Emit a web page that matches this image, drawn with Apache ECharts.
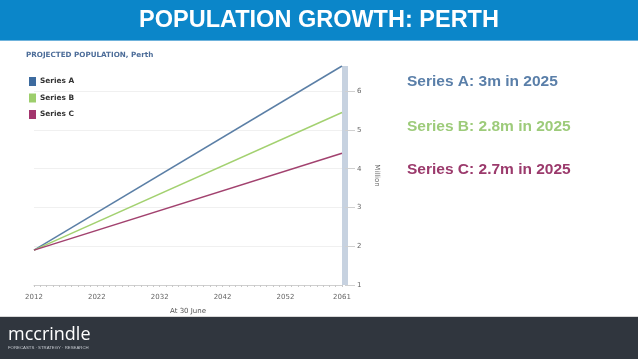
<!DOCTYPE html>
<html>
<head>
<meta charset="utf-8">
<script src="https://cdn.jsdelivr.net/npm/echarts@6/dist/echarts.min.js"></script>
<style>
html,body{margin:0;padding:0;background:#fff;}
#c{width:638px;height:359px;}
</style>
</head>
<body>
<div id="c"></div>
<script>
// Data
const seriesNames = ['Series A', 'Series B', 'Series C'];
const years = [2012, 2061];
const seriesA = [1.9, 6.65];
const seriesB = [1.9, 5.45];
const seriesC = [1.9, 4.4];
const xTickLabels = [2012, 2022, 2032, 2042, 2052, 2061];
const yTickLabels = [1, 2, 3, 4, 5, 6];
const notes = ['Series A: 3m in 2025', 'Series B: 2.8m in 2025', 'Series C: 2.7m in 2025'];

const lineColors = ['#5b7fa6', '#a3d170', '#a2426f'];
const iconColors = ['#3d6b9f', '#9dce6c', '#a3356d'];
const noteColors = ['#5a7fa9', '#9dcb7a', '#9b3a6c'];

const yearTicks = [];
for (let y = years[0]; y <= years[years.length - 1]; y++) yearTicks.push(y);

function pairs(vals) { return years.map((y, i) => [y, vals[i]]); }
const allVals = [seriesA, seriesB, seriesC];

const chart = echarts.init(document.getElementById('c'));
const option = {
  backgroundColor: '#ffffff',
  animation: false,
  textStyle: { fontFamily: 'DejaVu Sans' },
  grid: { left: 34, right: 296, top: 66, bottom: 74, containLabel: false },
  legend: {
    orient: 'vertical', left: 29, top: 77, itemGap: 7.5, padding: 0,
    itemWidth: 7, itemHeight: 9,
    icon: 'rect',
    data: seriesNames.map((n, i) => ({ name: n, itemStyle: { color: iconColors[i] } })),
    textStyle: { fontSize: 7.4, fontWeight: 'bold', color: '#333', fontFamily: 'DejaVu Sans', padding: [0, 0, 0, -1] }
  },
  xAxis: {
    type: 'value', min: years[0], max: years[years.length - 1],
    name: 'At 30 June', nameLocation: 'middle', nameGap: 23,
    nameTextStyle: { fontSize: 7, color: '#555', fontFamily: 'DejaVu Sans' },
    axisLine: { lineStyle: { color: '#cfcfcf', width: 1 } },
    axisTick: { show: true, customValues: yearTicks, length: 2, lineStyle: { color: '#c8c8c8' } },
    axisLabel: { customValues: xTickLabels, formatter: v => String(v), fontSize: 7, color: '#666', margin: 9, fontFamily: 'DejaVu Sans' },
    splitLine: { show: false }
  },
  yAxis: {
    type: 'value', position: 'right', min: 1, max: 6.65, interval: 1, offset: 3,
    name: 'Million', nameLocation: 'middle', nameGap: 28, nameRotate: -90,
    nameTextStyle: { fontSize: 7, color: '#666', fontFamily: 'DejaVu Sans' },
    axisLine: { show: true, lineStyle: { color: '#c7d2e0', width: 6, cap: 'butt' } },
    axisTick: { show: true, customValues: yTickLabels, length: 10, lineStyle: { color: '#d0d0d0' } },
    axisLabel: { customValues: yTickLabels, fontSize: 7, color: '#666', margin: 12, fontFamily: 'DejaVu Sans' },
    splitLine: { show: true, lineStyle: { color: '#f0f0f0', width: 1 } }
  },
  series: seriesNames.map((n, i) => ({
    name: n, type: 'line', data: pairs(allVals[i]),
    showSymbol: false, symbol: 'none',
    lineStyle: { color: lineColors[i], width: 1.5 },
    itemStyle: { color: iconColors[i] },
    z: 3
  })),
  graphic: [
    { type: 'rect', shape: { x: 0, y: 0, width: 638, height: 40 }, style: { fill: '#0b86c9' }, z: 0 },
    { type: 'rect', shape: { x: 0, y: 40, width: 638, height: 1 }, style: { fill: '#6fb3dc' }, z: 0 },
    { type: 'text', x: 319, y: 21, style: { text: 'POPULATION GROWTH: PERTH', fill: '#ffffff', font: 'bold 23.5px "Liberation Sans"', textAlign: 'center', textVerticalAlign: 'middle' } },
    { type: 'text', x: 26, y: 55, style: { text: 'PROJECTED POPULATION, Perth', fill: '#4d6d99', font: 'bold 7.2px "DejaVu Sans"', textAlign: 'left', textVerticalAlign: 'middle' } },
    { type: 'text', x: 407, y: 82, style: { text: notes[0], fill: noteColors[0], font: 'bold 15.5px "Liberation Sans"', textAlign: 'left', textVerticalAlign: 'middle' } },
    { type: 'text', x: 407, y: 127, style: { text: notes[1], fill: noteColors[1], font: 'bold 15.5px "Liberation Sans"', textAlign: 'left', textVerticalAlign: 'middle' } },
    { type: 'text', x: 407, y: 170, style: { text: notes[2], fill: noteColors[2], font: 'bold 15.5px "Liberation Sans"', textAlign: 'left', textVerticalAlign: 'middle' } },
    { type: 'rect', shape: { x: 0, y: 316, width: 638, height: 1 }, style: { fill: '#d8d8d8' }, z: 0 },
    { type: 'rect', shape: { x: 0, y: 317, width: 638, height: 42 }, style: { fill: '#30363e' }, z: 0 },
    { type: 'text', x: 8, y: 335, style: { text: 'mccrindle', fill: '#ffffff', font: '500 18px "Open Sans"', textAlign: 'left', textVerticalAlign: 'middle' } },
    { type: 'text', x: 8, y: 348, style: { text: 'FORECASTS · STRATEGY · RESEARCH', fill: '#c8ccd2', font: '4.3px "Liberation Sans"', textAlign: 'left', textVerticalAlign: 'middle' } }
  ]
};
chart.setOption(option);
</script>
</body>
</html>
